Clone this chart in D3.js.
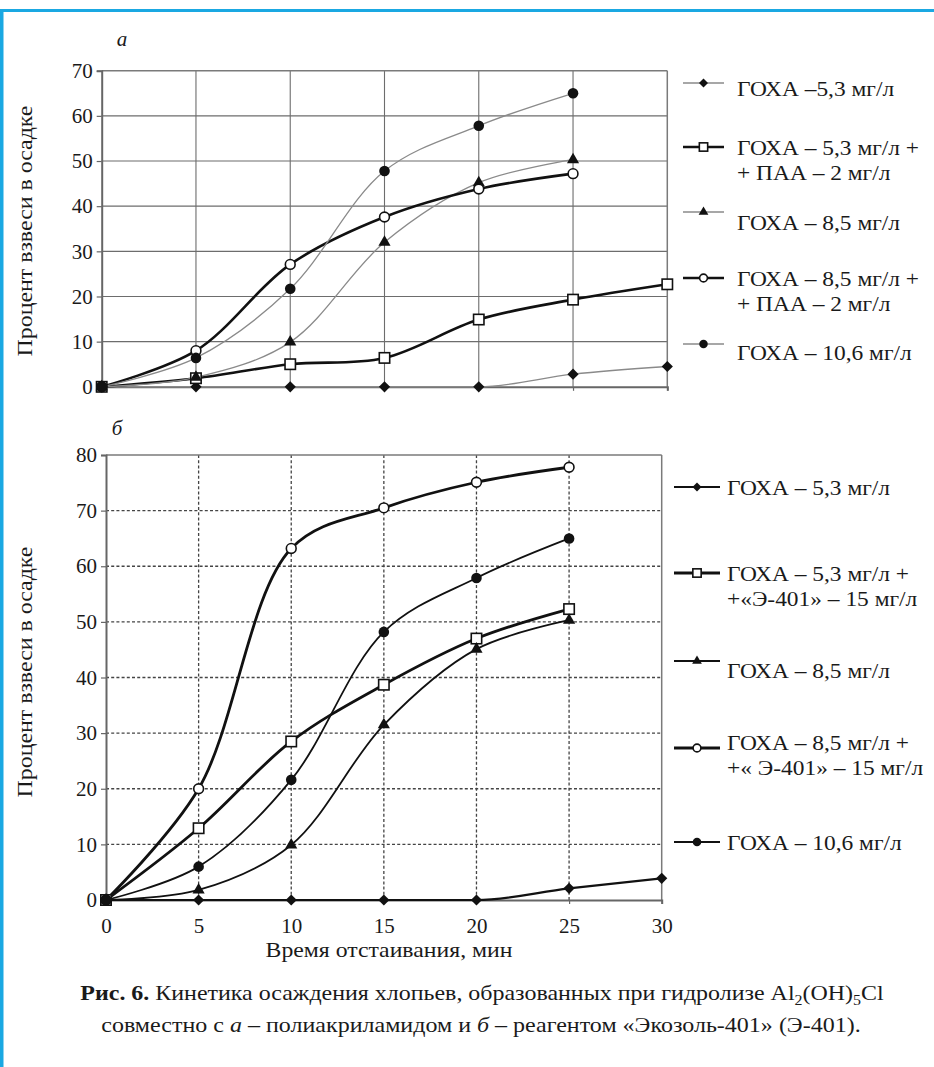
<!DOCTYPE html>
<html><head><meta charset="utf-8">
<script src="https://cdnjs.cloudflare.com/ajax/libs/d3/7.8.5/d3.min.js"></script>
</head>
<body style="margin:0;background:#fff">
<svg id="c" width="934" height="1067" style="display:block"></svg>
<script>
// ---- data ----
const times = [0, 5, 10, 15, 20, 25, 30];
const tickLabelsX = ["0", "5", "10", "15", "20", "25", "30"];
const ticksTopY = [0, 10, 20, 30, 40, 50, 60, 70];
const ticksBotY = [0, 10, 20, 30, 40, 50, 60, 70, 80];

// panel а
const topGoxa53    = [0, 0, 0, 0, 0, 2.8, 4.5];
const topGoxa53Paa = [0, 1.9, 5.0, 6.4, 14.9, 19.3, 22.7];
const topGoxa85    = [0, 2.1, 9.9, 32.0, 45.2, 50.3];
const topGoxa85Paa = [0, 8.0, 27.1, 37.6, 43.8, 47.2];
const topGoxa106   = [0, 6.4, 21.7, 47.8, 57.8, 65.0];
const topLegend = [["ГОХА –5,3 мг/л"], ["ГОХА – 5,3 мг/л +", "+ ПАА – 2 мг/л"], ["ГОХА – 8,5 мг/л"], ["ГОХА – 8,5 мг/л +", "+ ПАА – 2 мг/л"], ["ГОХА – 10,6 мг/л"]];

// panel б
const botGoxa53    = [0, 0, 0, 0, 0, 2.1, 3.9];
const botGoxa53E   = [0, 12.9, 28.5, 38.7, 47.0, 52.3];
const botGoxa85    = [0, 1.8, 9.9, 31.5, 45.1, 50.3];
const botGoxa85E   = [0, 20.0, 63.2, 70.5, 75.1, 77.8];
const botGoxa106   = [0, 6.0, 21.6, 48.2, 57.9, 65.0];
const botLegend = [["ГОХА – 5,3 мг/л"], ["ГОХА – 5,3 мг/л +", "+«Э-401» – 15 мг/л"], ["ГОХА – 8,5 мг/л"], ["ГОХА – 8,5 мг/л +", "+« Э-401» – 15 мг/л"], ["ГОХА – 10,6 мг/л"]];

const markers = ["diamond", "square", "triangle", "circleOpen", "circle"];
const FONT = "Liberation Serif";
const INK = "#1a1a1a";

const svg = d3.select("#c");

// blue frame
svg.append("rect").attr("x", 0).attr("y", 9).attr("width", 934).attr("height", 3).attr("fill", "#1aa8e2");
svg.append("rect").attr("x", 0).attr("y", 9).attr("width", 3.5).attr("height", 1058).attr("fill", "#1aa8e2");

function stretchText(parent, x, y, anchor, size, rot) {
  const g = parent.append("g");
  const t = g.append("text").attr("x", 0).attr("y", 0).attr("text-anchor", anchor)
    .style("font-family", FONT).style("font-size", size + "px").style("fill", INK);
  t._g = g; t._x = x; t._y = y; t._rot = rot || 0;
  return t;
}
function fit(t, opt) {
  const w = t.node().getBBox().width;
  let k = 1;
  if (opt.width) k = opt.width / w;
  else if (opt.k) k = opt.k;
  t._g.attr("transform", `translate(${t._x},${t._y}) rotate(${t._rot}) scale(${k},1)`);
}

function drawMarker(g, type, x, y, s) {
  s = s || 1;
  if (type === "diamond") {
    const r = 5.6 * s;
    g.append("path").attr("d", `M${x},${y - r}L${x + r},${y}L${x},${y + r}L${x - r},${y}Z`).attr("fill", "#111");
  } else if (type === "square") {
    g.append("rect").attr("x", x - 5.2 * s).attr("y", y - 5.2 * s).attr("width", 10.4 * s).attr("height", 10.4 * s).attr("fill", "#fff").attr("stroke", "#111").attr("stroke-width", 1.6);
  } else if (type === "triangle") {
    g.append("path").attr("d", d3.symbol(d3.symbolTriangle, 64 * s * s)()).attr("transform", `translate(${x},${y})`).attr("fill", "#111");
  } else if (type === "circleOpen") {
    g.append("circle").attr("cx", x).attr("cy", y).attr("r", 4.9 * s).attr("fill", "#fff").attr("stroke", "#111").attr("stroke-width", 1.6);
  } else {
    g.append("circle").attr("cx", x).attr("cy", y).attr("r", 5.3 * s).attr("fill", "#111");
  }
}

function panel(cfg) {
  const g = svg.append("g");
  const x = d3.scaleLinear().domain([0, 30]).range(cfg.xr);
  const y = d3.scaleLinear().domain([0, cfg.ymax]).range(cfg.yr);
  const gg = g.append("g");
  cfg.yTicks.forEach(v => {
    if (v === 0 || v === cfg.ymax) return;
    gg.append("line").attr("x1", x(0)).attr("x2", x(30)).attr("y1", y(v)).attr("y2", y(v))
      .attr("stroke", cfg.gridColor).attr("stroke-width", cfg.gridW).attr("stroke-dasharray", cfg.dash);
  });
  times.forEach(v => {
    if (v === 0 || v === 30) return;
    gg.append("line").attr("x1", x(v)).attr("x2", x(v)).attr("y1", y(0)).attr("y2", y(cfg.ymax))
      .attr("stroke", cfg.gridColor).attr("stroke-width", cfg.gridW).attr("stroke-dasharray", cfg.dash);
  });
  g.append("line").attr("x1", x(0)).attr("x2", x(30)).attr("y1", y(cfg.ymax)).attr("y2", y(cfg.ymax)).attr("stroke", "#7a7a7a").attr("stroke-width", 1.5);
  g.append("line").attr("x1", x(30)).attr("x2", x(30)).attr("y1", y(0)).attr("y2", y(cfg.ymax)).attr("stroke", "#7a7a7a").attr("stroke-width", 1.5);

  const ya = d3.axisLeft(y).tickValues(cfg.yTicks).tickSize(5).tickPadding(4);
  const yg = g.append("g").attr("transform", `translate(${x(0)},0)`).call(ya);
  yg.attr("font-family", FONT).attr("font-size", 21);
  yg.select(".domain").attr("stroke", "#666").attr("stroke-width", 2);
  yg.selectAll(".tick line").attr("stroke", "#666").attr("stroke-width", 1.2);
  yg.selectAll("text").style("font-family", FONT).style("font-size", "21px").attr("fill", INK);
  const xa = d3.axisBottom(x).tickValues(times).tickSize(4).tickPadding(14)
    .tickFormat((d, i) => cfg.xLabels ? tickLabelsX[i] : "");
  const xg = g.append("g").attr("transform", `translate(0,${y(0)})`).call(xa);
  xg.attr("font-family", FONT).attr("font-size", 21);
  xg.select(".domain").attr("stroke", "#666").attr("stroke-width", 2);
  xg.selectAll(".tick line").attr("stroke", "#666").attr("stroke-width", 1.2);
  xg.selectAll("text").style("font-family", FONT).style("font-size", "21px").attr("fill", INK);

  const line = d3.line().x((d, i) => x(times[i])).y(d => y(d)).curve(d3.curveCatmullRom.alpha(0.5));
  const lineM = d3.line().x((d, i) => x(times[i])).y(d => y(d)).curve(d3.curveMonotoneX);
  cfg.series.forEach((s, k) => {
    g.append("path").attr("d", (k === 0 ? lineM : line)(s.data)).attr("fill", "none")
      .attr("stroke", s.color).attr("stroke-width", s.w).attr("stroke-linejoin", "round");
  });
  cfg.series.forEach((s, k) => {
    const mg = g.append("g");
    s.data.forEach((d, i) => drawMarker(mg, markers[k], x(times[i]), y(d)));
  });

  const t = stretchText(g, cfg.ytx, cfg.yty, "middle", 21, -90).text("Процент взвеси в осадке");
  fit(t, {width: 251});

  cfg.legend.forEach((lab, k) => {
    const ly = cfg.legY[k];
    const s = cfg.series[k];
    const sy = ly + (cfg.legOff[k] || 0);
    g.append("line").attr("x1", cfg.legX0).attr("x2", cfg.legX1).attr("y1", sy).attr("y2", sy)
      .attr("stroke", s.color).attr("stroke-width", s.w);
    drawMarker(g, markers[k], (cfg.legX0 + cfg.legX1) / 2, sy, 0.8);
    lab.forEach((l, j) => {
      const lt = stretchText(g, cfg.legTX, ly + j * cfg.legLH + 7.5, "start", 21.5).text(l);
      fit(lt, {k: 1.09});
    });
  });
}

panel({
  xr: [101.7, 667.3], yr: [386.8, 70.7], ymax: 70, yTicks: ticksTopY, xLabels: false,
  gridColor: "#6d6d6d", gridW: 1.1, dash: null,
  series: [
    {data: topGoxa53, color: "#8a8a8a", w: 1.3},
    {data: topGoxa53Paa, color: "#111", w: 2.6},
    {data: topGoxa85, color: "#8a8a8a", w: 1.3},
    {data: topGoxa85Paa, color: "#111", w: 2.6},
    {data: topGoxa106, color: "#8a8a8a", w: 1.3}
  ],
  ytx: 32, yty: 231,
  legend: topLegend, legY: [88, 147, 222, 278, 352], legOff: [-5, 0, -10, 0, -8], legLH: 25,
  legX0: 683, legX1: 724, legTX: 737
});

panel({
  xr: [106, 661.7], yr: [900, 455], ymax: 80, yTicks: ticksBotY, xLabels: true,
  gridColor: "#444", gridW: 1.3, dash: "3,2.2",
  series: [
    {data: botGoxa53, color: "#111", w: 2.2},
    {data: botGoxa53E, color: "#111", w: 2.8},
    {data: botGoxa85, color: "#111", w: 1.8},
    {data: botGoxa85E, color: "#111", w: 2.8},
    {data: botGoxa106, color: "#111", w: 1.8}
  ],
  ytx: 32, yty: 672,
  legend: botLegend, legY: [487, 573, 670, 742, 842], legOff: [0, 0, -9, 6, 0], legLH: 25,
  legX0: 674, legX1: 720, legTX: 727
});

svg.append("text").attr("x", 122).attr("y", 46).style("font-family", FONT).style("font-size", "21px").style("font-style", "italic").style("fill", INK).attr("text-anchor", "middle").text("а");
svg.append("text").attr("x", 117).attr("y", 435).style("font-family", FONT).style("font-size", "21px").style("font-style", "italic").style("fill", INK).attr("text-anchor", "middle").text("б");

const xt = stretchText(svg, 389, 957, "middle", 21).text("Время отстаивания, мин");
fit(xt, {width: 247});

const cap1 = stretchText(svg, 482, 1000, "middle", 21);
cap1.append("tspan").style("font-weight", "bold").text("Рис. 6.");
cap1.append("tspan").text(" Кинетика осаждения хлопьев, образованных при гидролизе Al");
cap1.append("tspan").style("font-size", "14px").attr("dy", 5).text("2");
cap1.append("tspan").attr("dy", -5).text("(OH)");
cap1.append("tspan").style("font-size", "14px").attr("dy", 5).text("5");
cap1.append("tspan").attr("dy", -5).text("Cl");
fit(cap1, {width: 804});
const cap2 = stretchText(svg, 481, 1032, "middle", 21);
cap2.append("tspan").text("совместно с ");
cap2.append("tspan").style("font-style", "italic").text("а");
cap2.append("tspan").text(" – полиакриламидом и ");
cap2.append("tspan").style("font-style", "italic").text("б");
cap2.append("tspan").text(" – реагентом «Экозоль-401» (Э-401).");
fit(cap2, {width: 760});
</script>
</body></html>
